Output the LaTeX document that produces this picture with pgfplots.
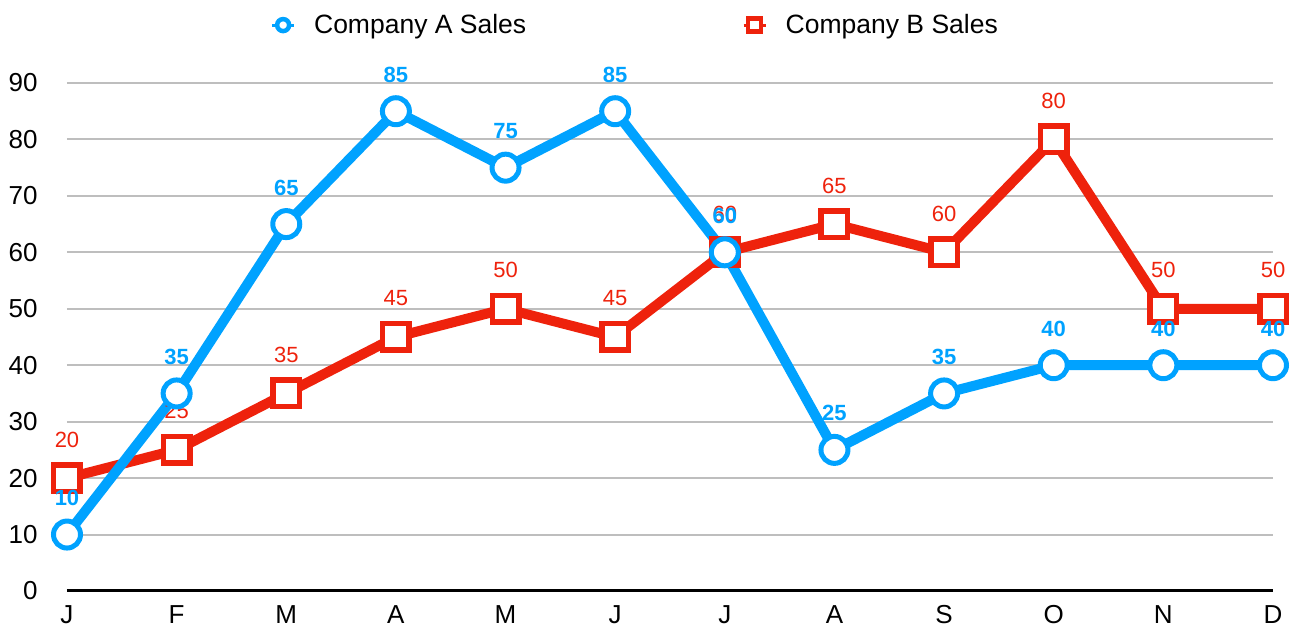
\documentclass[border=0pt]{standalone}
\usepackage{fontspec}
\setmainfont{Liberation Sans}
\usepackage{pgfplots}
\pgfplotsset{compat=1.18}
\definecolor{cA}{RGB}{0,162,255}
\definecolor{cB}{RGB}{238,34,12}
\definecolor{gridc}{RGB}{190,190,190}
\begin{document}
\begin{tikzpicture}
\begin{axis}[
  scale only axis, width=1206pt, height=508pt,
  xmin=0, xmax=11, ymin=0, ymax=90,
  enlargelimits=false, clip=false,
  xtick={0,...,11},
  xticklabels={J,F,M,A,M,J,J,A,S,O,N,D},
  ytick={0,10,...,90},
  major tick length=0pt,
  axis x line*=bottom, axis y line*=left,
  y axis line style={draw=none},
  x axis line style={-, black, line width=3pt},
  ymajorgrids, grid style={gridc, line width=2pt},
  /pgf/number format/assume math mode=true,
  tick label style={font=\fontsize{26}{29}\selectfont, black},
  yticklabel style={xshift=-26pt},
  xticklabel style={yshift=-11pt},
  reverse legend,
  legend style={at={(0.472,1.114)}, anchor=center, draw=none, fill=none,
    font=\fontsize{26.5}{29}\selectfont, legend columns=-1,
    nodes={inner sep=4pt},
    /tikz/every even column/.append style={column sep=212pt}},
]
\addplot[cB, line width=10pt, mark=square*, mark size=13.25pt,
  mark options={line width=5.5pt, fill=white, solid},
  nodes near coords, every node near coord/.append style={font=\fontsize{22}{24}\selectfont, cB, anchor=base, inner sep=0pt, yshift=31pt},
  legend image code/.code={\draw[line width=3pt] (-11pt,0) -- (11pt,0); \draw[line width=4.5pt, fill=white] (-6.5pt,-6.5pt) rectangle (6.5pt,6.5pt); \path (22pt,0);}]
coordinates {(0,20) (1,25) (2,35) (3,45) (4,50) (5,45) (6,60) (7,65) (8,60) (9,80) (10,50) (11,50)};
\addlegendentry{Company B Sales}
\addplot[cA, line width=10pt, mark=*, mark size=13.5pt,
  mark options={line width=5pt, fill=white, solid},
  nodes near coords, every node near coord/.append style={font=\bfseries\fontsize{22}{24}\selectfont, cA, anchor=base, inner sep=0pt, yshift=29pt},
  legend image code/.code={\draw[line width=3pt] (-11pt,0) -- (11pt,0); \draw[line width=4.5pt, fill=white] (0,0) circle (6pt); \path (22pt,0);}]
coordinates {(0,10) (1,35) (2,65) (3,85) (4,75) (5,85) (6,60) (7,25) (8,35) (9,40) (10,40) (11,40)};
\addlegendentry{Company A Sales}
\end{axis}
\pgfresetboundingbox
\path[use as bounding box] (-67pt,-40pt) rectangle (1227pt,591pt);
\end{tikzpicture}
\end{document}
